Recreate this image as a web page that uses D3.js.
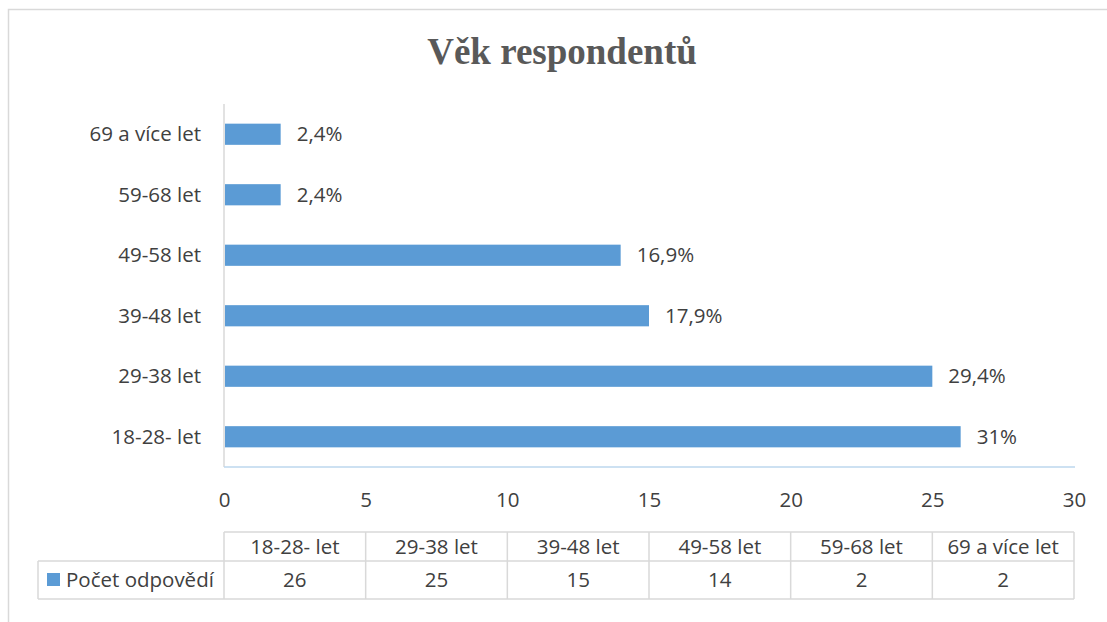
<html>
<head>
<script src="https://d3js.org/d3.v7.min.js"></script>
<style>
  body { margin: 0; background: #fff; }
  text { font-family: "Open Sans", Lato, sans-serif; }
</style>
</head>
<body>
<svg id="chart" width="1107" height="622"></svg>
<script>
// data
const categories = ["18-28- let", "29-38 let", "39-48 let", "49-58 let", "59-68 let", "69 a více let"];
const counts = [26, 25, 15, 14, 2, 2];
const percentLabels = ["31%", "29,4%", "17,9%", "16,9%", "2,4%", "2,4%"];
const xTicks = [0, 5, 10, 15, 20, 25, 30];
const seriesName = "Počet odpovědí";
const title = "Věk respondentů";

const svg = d3.select("#chart");
const barColor = "#5b9bd5";
const textColor = "#404040";
const gridColor = "#d9d9d9";
const fs = "20.5px";

// outer chart frame
svg.append("rect").attr("x", 8.5).attr("y", 9.5).attr("width", 1110).attr("height", 630)
  .attr("fill", "none").attr("stroke", gridColor).attr("stroke-width", 1.5);

svg.append("text")
  .attr("x", 562).attr("y", 64)
  .attr("text-anchor", "middle")
  .style("font-family", "'Liberation Serif', 'Times New Roman', serif")
  .style("font-weight", "bold").style("font-size", "37px")
  .attr("fill", "#595959")
  .text(title);

const x = d3.scaleLinear().domain([0, 30]).range([224, 1074]);
// first category at the bottom, like excel's bar chart
const y = d3.scaleBand().domain(categories.slice().reverse()).range([104, 467]).paddingInner(0.65).paddingOuter(0.325);

// axis lines
svg.append("line").attr("x1", 224).attr("x2", 224).attr("y1", 104).attr("y2", 467)
  .attr("stroke", gridColor).attr("stroke-width", 1.5);
svg.append("line").attr("x1", 224).attr("x2", 1075).attr("y1", 467).attr("y2", 467)
  .attr("stroke", "#bdd7ee").attr("stroke-width", 1.5);

const data = categories.map((c, i) => ({ cat: c, val: counts[i], lab: percentLabels[i] }));

svg.selectAll("rect.bar").data(data).join("rect")
  .attr("class", "bar")
  .attr("x", x(0) + 1)
  .attr("y", d => y(d.cat))
  .attr("width", d => x(d.val) - x(0) - 1)
  .attr("height", y.bandwidth())
  .attr("fill", barColor);

svg.selectAll("text.val").data(data).join("text")
  .attr("class", "val")
  .attr("x", d => x(d.val) + 16)
  .attr("y", d => y(d.cat) + y.bandwidth() / 2)
  .attr("dy", "0.35em")
  .attr("fill", textColor).style("font-size", fs)
  .text(d => d.lab);

svg.selectAll("text.cat").data(data).join("text")
  .attr("class", "cat")
  .attr("x", 201)
  .attr("y", d => y(d.cat) + y.bandwidth() / 2)
  .attr("dy", "0.35em")
  .attr("text-anchor", "end")
  .attr("fill", textColor).style("font-size", fs)
  .text(d => d.cat);

// x axis tick labels
const xAxis = d3.axisBottom(x).tickValues(xTicks).tickSize(0).tickPadding(0);
const xg = svg.append("g").attr("transform", "translate(0,492)").call(xAxis);
xg.select(".domain").remove();
xg.selectAll("text").attr("fill", textColor).style("font-size", fs)
  .style("font-family", "'Open Sans', Lato, sans-serif");

// data table
const colW = (x(30) - x(0)) / categories.length;
const t = svg.append("g").attr("class", "table");
const rowTop = 532, rowMid = 561, rowBot = 599;
const lineStyle = s => s.attr("stroke", gridColor).attr("stroke-width", 1.5);

t.append("line").attr("x1", x(0)).attr("x2", x(30)).attr("y1", rowTop).attr("y2", rowTop).call(lineStyle);
t.append("line").attr("x1", 38).attr("x2", x(30)).attr("y1", rowMid).attr("y2", rowMid).call(lineStyle);
t.append("line").attr("x1", 38).attr("x2", x(30)).attr("y1", rowBot).attr("y2", rowBot).call(lineStyle);
t.append("line").attr("x1", 38).attr("x2", 38).attr("y1", rowMid).attr("y2", rowBot).call(lineStyle);
d3.range(categories.length + 1).forEach(i => {
  t.append("line").attr("x1", x(0) + i * colW).attr("x2", x(0) + i * colW)
    .attr("y1", rowTop).attr("y2", rowBot).call(lineStyle);
});

t.selectAll("text.head").data(categories).join("text")
  .attr("class", "head")
  .attr("x", (d, i) => x(0) + (i + 0.5) * colW)
  .attr("y", (rowTop + rowMid) / 2).attr("dy", "0.35em")
  .attr("text-anchor", "middle").attr("fill", textColor).style("font-size", fs)
  .text(d => d);

t.selectAll("text.num").data(counts).join("text")
  .attr("class", "num")
  .attr("x", (d, i) => x(0) + (i + 0.5) * colW)
  .attr("y", (rowMid + rowBot) / 2).attr("dy", "0.35em")
  .attr("text-anchor", "middle").attr("fill", textColor).style("font-size", fs)
  .text(d => d);

// legend key
t.append("rect").attr("x", 47).attr("y", 573).attr("width", 13).attr("height", 13).attr("fill", barColor);
t.append("text").attr("x", 66).attr("y", (rowMid + rowBot) / 2).attr("dy", "0.35em")
  .attr("fill", textColor).style("font-size", fs).text(seriesName);
</script>
</body>
</html>
